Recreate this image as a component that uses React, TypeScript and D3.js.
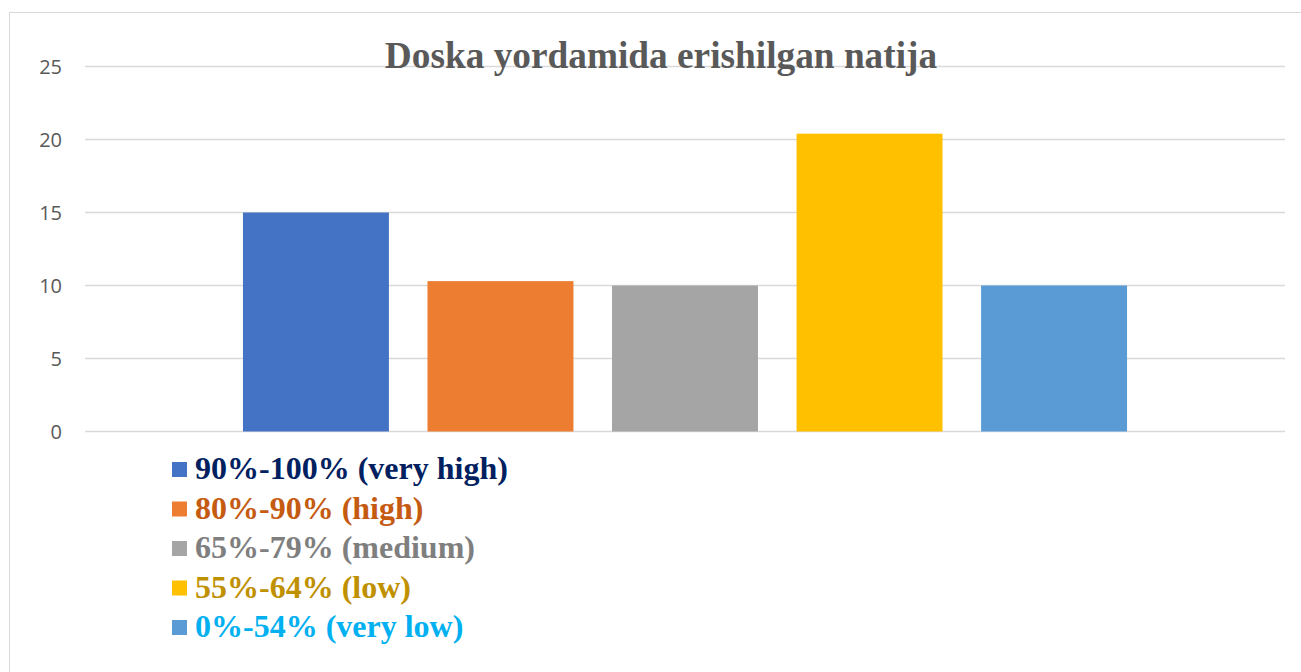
import React from "react";
import * as d3 from "d3";

const series = [
  "90%-100% (very high)",
  "80%-90% (high)",
  "65%-79% (medium)",
  "55%-64% (low)",
  "0%-54% (very low)",
];
const values = [15.0, 10.3, 10.0, 20.4, 10.0];
const barColors = ["#4472C4", "#ED7D31", "#A5A5A5", "#FFC000", "#5B9BD5"];
const labelColors = ["#002060", "#C55A11", "#7F7F7F", "#BF9000", "#00B0F0"];
const yTicks = [0, 5, 10, 15, 20, 25];
const title = "Doska yordamida erishilgan natija";

const App = () => {
  const width = 1301;
  const height = 672;
  const plotLeft = 85;
  const plotRight = 1285;

  const y = d3.scaleLinear().domain([0, 25]).range([431.5, 66.5]);
  const x = d3
    .scaleBand()
    .domain(series)
    .range([plotLeft, plotRight])
    .paddingInner(0.209)
    .paddingOuter(0.856);

  return (
    <svg
      width={width}
      height={height}
      style={{ position: "absolute", left: 0, top: 0, background: "#fff" }}
    >
      <rect x={9.5} y={12.5} width={1300} height={700} fill="#fff" stroke="#d9d9d9" strokeWidth={1} />
      <g>
        {yTicks.map(t => (
          <g key={t}>
            <line x1={plotLeft} x2={plotRight} y1={y(t)} y2={y(t)} stroke="#d9d9d9" strokeWidth={1.5} />
            <text
              x={62}
              y={y(t)}
              dy="0.35em"
              textAnchor="end"
              fontFamily="'Open Sans', 'Liberation Sans', sans-serif"
              fontSize={20}
              fill="#595959"
            >
              {t}
            </text>
          </g>
        ))}
      </g>
      <g>
        {series.map((s, i) => (
          <rect
            key={s}
            x={x(s)}
            y={y(values[i])}
            width={x.bandwidth()}
            height={y(0) - y(values[i])}
            fill={barColors[i]}
          />
        ))}
      </g>
      <text
        x={661}
        y={68}
        textAnchor="middle"
        fontFamily="'Liberation Serif', 'DejaVu Serif', serif"
        fontWeight="bold"
        fontSize={37.3}
        fill="#595959"
      >
        {title}
      </text>
      <g>
        {series.map((s, i) => (
          <g key={s} transform={`translate(172, ${462 + i * 39.5})`}>
            <rect width={15} height={15} fill={barColors[i]} />
            <text
              x={23}
              y={17}
              fontFamily="'Liberation Serif', 'DejaVu Serif', serif"
              fontWeight="bold"
              fontSize={32}
              fill={labelColors[i]}
            >
              {s}
            </text>
          </g>
        ))}
      </g>
    </svg>
  );
};

export default App;
